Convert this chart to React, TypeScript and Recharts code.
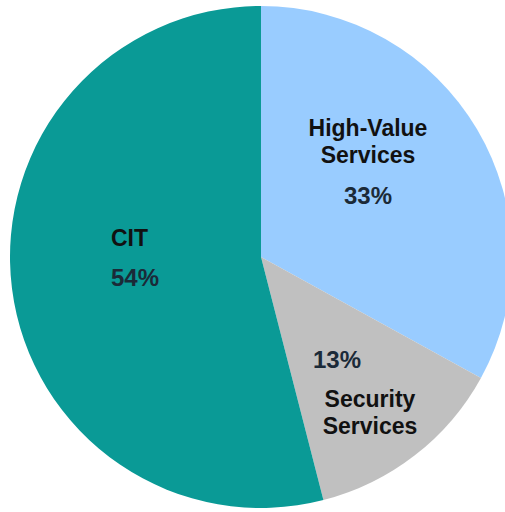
import { PieChart, Pie, Cell } from "recharts";

const names = ["High-Value Services", "Security Services", "CIT"];
const values = [33, 13, 54];
const colors = ["#99CCFF", "#C0C0C0", "#0A9A96"];

// label text lines for each slice (name split over lines)
const nameLines = [["High-Value", "Services"], ["Security", "Services"], ["CIT"]];

const data = names.map((name, i) => ({ name, value: values[i] }));

// where each label block sits: x, anchor, baseline of name, baseline of percent
const labelSpots = [
  { x: 368, anchor: "middle", nameY: 136, pctY: 204 },
  { x: 370, anchor: "middle", nameY: 407, pctY: 368, pctX: 313, pctAnchor: "start" },
  { x: 111, anchor: "start", nameY: 246, pctY: 286 },
];

const renderLabel = (props: any) => {
  const { index, percent } = props;
  const spot: any = labelSpots[index];
  const lines = nameLines[index];
  return (
    <g key={`lbl-${index}`}>
      <text
        x={spot.x}
        y={spot.nameY}
        textAnchor={spot.anchor}
        fontFamily="Liberation Sans, Arial, sans-serif"
        fontWeight="bold"
        fontSize={23}
        fill="#111"
      >
        {lines.map((l: string, j: number) => (
          <tspan key={j} x={spot.x} dy={j === 0 ? 0 : 27}>
            {l}
          </tspan>
        ))}
      </text>
      <text
        x={spot.pctX ?? spot.x}
        y={spot.pctY}
        textAnchor={spot.pctAnchor ?? spot.anchor}
        fontFamily="Liberation Sans, Arial, sans-serif"
        fontWeight="bold"
        fontSize={24}
        fill="#1b2a38"
      >
        {`${Math.round(percent * 100)}%`}
      </text>
    </g>
  );
};

export default function App() {
  return (
    <div style={{ position: "absolute", left: 0, top: 0, width: 505, height: 512, background: "#fff" }}>
      <PieChart width={505} height={512} margin={{ top: 0, right: 0, bottom: 0, left: 0 }}>
        <Pie
          data={data}
          dataKey="value"
          nameKey="name"
          cx={261}
          cy={257}
          outerRadius={251}
          startAngle={90}
          endAngle={-270}
          stroke="none"
          label={renderLabel}
          labelLine={false}
          isAnimationActive={false}
        >
          {data.map((entry, i) => (
            <Cell key={`cell-${i}`} fill={colors[i]} />
          ))}
        </Pie>
      </PieChart>
    </div>
  );
}
